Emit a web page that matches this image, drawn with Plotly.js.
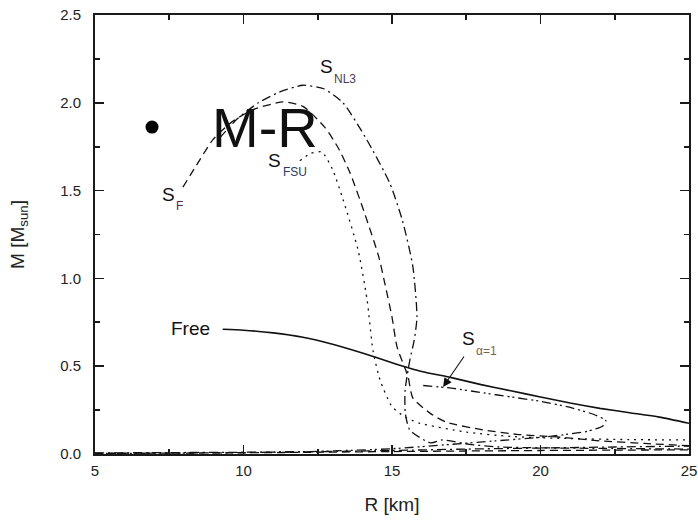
<!DOCTYPE html>
<html>
<head>
<meta charset="utf-8">
<script src="https://cdn.plot.ly/plotly-3.0.1.min.js"></script>
<style>
  html, body { margin: 0; padding: 0; background: #fff; }
  #chart { width: 698px; height: 521px; }
</style>
</head>
<body>
<div id="chart"></div>
<script>
// Mass-radius relations (R in km, M in solar masses)

// Free (solid)
const freeR = [9.3, 10, 11, 12, 13, 14, 15, 16, 17, 18, 19, 20, 21, 22, 23, 24, 25];
const freeM = [0.71, 0.705, 0.69, 0.665, 0.625, 0.575, 0.52, 0.47, 0.435, 0.395, 0.36, 0.325, 0.29, 0.26, 0.235, 0.21, 0.175];

// S_F (dashed)
const sfR = [7.96, 8.4, 8.97, 9.6, 10.3, 11.33, 12.0, 12.74, 13.2, 13.59, 14.1, 14.56, 14.76, 15.0, 15.17, 15.54, 15.7, 16.3, 16.85, 18.07, 19.2, 20.55, 22.0, 23.5, 25.0];
const sfM = [1.52, 1.64, 1.79, 1.89, 1.96, 2.005, 1.98, 1.86, 1.74, 1.60, 1.36, 1.12, 0.97, 0.78, 0.61, 0.44, 0.32, 0.23, 0.18, 0.137, 0.112, 0.097, 0.075, 0.06, 0.047];

// S_NL3 (dash-dot)
const nl3R = [9.2, 9.8, 10.5, 11.2, 12.0, 12.7, 13.35, 14.15, 14.93, 15.35, 15.7, 15.84, 15.75, 15.6, 15.44, 15.45, 15.6, 16.3, 16.7, 17.6, 18.6, 20.0, 22.0, 25.0];
const nl3M = [1.80, 1.91, 2.0, 2.06, 2.10, 2.08, 2.0, 1.79, 1.54, 1.33, 1.07, 0.78, 0.65, 0.535, 0.36, 0.23, 0.137, 0.063, 0.08, 0.055, 0.04, 0.035, 0.032, 0.028];

// S_FSU (dotted)
const fsuR = [11.9, 12.24, 12.64, 13.0, 13.35, 13.86, 14.16, 14.36, 14.6, 15.0, 15.44, 15.94, 17.5, 19.0, 21.0, 23.0, 25.0];
const fsuM = [1.67, 1.71, 1.72, 1.62, 1.45, 1.16, 0.88, 0.59, 0.42, 0.27, 0.21, 0.175, 0.125, 0.1, 0.088, 0.082, 0.08];

// S_alpha=1 (dash-dot-dot)
const alphaR = [16.05, 17.0, 18.0, 19.0, 20.0, 21.0, 21.8, 22.2, 22.1, 21.6, 20.8, 20.0, 18.5, 17.0, 15.0, 12.5, 10.0, 7.5, 5.0];
const alphaM = [0.39, 0.375, 0.35, 0.325, 0.30, 0.265, 0.225, 0.19, 0.16, 0.13, 0.11, 0.095, 0.075, 0.055, 0.03, 0.015, 0.008, 0.005, 0.003];

// Low-mass branches running along the bottom of the plot
const sfLowR = [5, 7.5, 10, 12.5, 15, 17.5, 20, 22.5, 25];
const sfLowM = [0.004, 0.005, 0.007, 0.01, 0.014, 0.017, 0.02, 0.022, 0.024];
const nl3LowR = [5, 7.5, 10, 12.5, 15, 17.5, 20, 22.5, 25];
const nl3LowM = [0.006, 0.008, 0.01, 0.013, 0.02, 0.028, 0.034, 0.04, 0.045];

const ink = '#111';
const axisInk = '#1a1a1a';
const font = 'Liberation Sans, Arial, sans-serif';

function curve(x, y, dash, width) {
  return {
    x: x, y: y, type: 'scatter', mode: 'lines',
    line: { color: ink, width: width || 1.3, dash: dash, shape: 'spline', smoothing: 0.6 },
    hoverinfo: 'skip', showlegend: false
  };
}

const traces = [
  curve(freeR, freeM, 'solid', 1.6),
  curve(sfR, sfM, '8px,5px'),
  curve(nl3R, nl3M, '9px,4px,2px,4px'),
  curve(fsuR, fsuM, '2px,5px'),
  curve(alphaR, alphaM, '9px,4px,2px,3px,2px,4px'),
  curve(sfLowR, sfLowM, '8px,5px'),
  curve(nl3LowR, nl3LowM, '9px,4px,2px,4px')
];

function label(x, y, text, size, color) {
  return { x: x, y: y, xref: 'x', yref: 'y', text: text, showarrow: false,
    font: { family: font, size: size, color: color || ink } };
}

const annotations = [
  label(10.72, 1.862, 'M-R', 56),
  label(8.2, 0.712, 'Free', 19),
  label(7.49, 1.475, 'S', 19),
  label(7.86, 1.41, 'F', 12, '#5c2a52'),
  label(12.78, 2.204, 'S', 19),
  label(13.42, 2.133, 'NL3', 12, '#4a3c5a'),
  label(11.03, 1.669, 'S', 19),
  label(11.73, 1.604, 'FSU', 12, '#2c3a66'),
  label(17.56, 0.655, 'S', 19),
  label(18.17, 0.585, 'α=1', 12, '#7a6448'),
  { x: 16.72, y: 0.382, xref: 'x', yref: 'y', ax: 17.46, ay: 0.564, axref: 'x', ayref: 'y',
    text: '', showarrow: true, arrowhead: 2, arrowsize: 1.6, arrowwidth: 1.1, arrowcolor: ink }
];

// Filled bullet in front of the "M-R" heading
const shapes = [{
  type: 'circle', xref: 'x', yref: 'y',
  xsizemode: 'pixel', ysizemode: 'pixel', xanchor: 6.92, yanchor: 1.862,
  x0: -6.5, x1: 6.5, y0: -6.5, y1: 6.5,
  fillcolor: '#000', line: { width: 0 }
}];

const axisCommon = {
  showgrid: false, zeroline: false, showline: true, linecolor: axisInk, linewidth: 2,
  mirror: 'ticks', ticks: 'inside', ticklen: 9, tickwidth: 1.6, tickcolor: axisInk,
  tickfont: { family: font, size: 15, color: '#222' }
};

const layout = {
  width: 698, height: 521,
  margin: { l: 95, r: 9, t: 15, b: 67 },
  paper_bgcolor: '#fff', plot_bgcolor: '#fff',
  xaxis: Object.assign({}, axisCommon, {
    range: [5, 25], dtick: 5, tick0: 5, ticklabelstandoff: 2,
    minor: { dtick: 2.5, ticks: 'inside', ticklen: 5, tickwidth: 1.6, tickcolor: axisInk },
    title: { text: 'R [km]', font: { family: font, size: 19, color: '#222' }, standoff: 20 }
  }),
  yaxis: Object.assign({}, axisCommon, {
    range: [0, 2.5], dtick: 0.5, tick0: 0, tickformat: '.1f', ticklabelstandoff: 9,
    minor: { dtick: 0.25, ticks: 'inside', ticklen: 5, tickwidth: 1.6, tickcolor: axisInk },
    title: { text: 'M [M<sub>sun</sub>]', font: { family: font, size: 19, color: '#222' }, standoff: 30 }
  }),
  annotations: annotations,
  shapes: shapes,
  showlegend: false
};

Plotly.newPlot('chart', traces, layout, { staticPlot: true, displayModeBar: false });
</script>
</body>
</html>
